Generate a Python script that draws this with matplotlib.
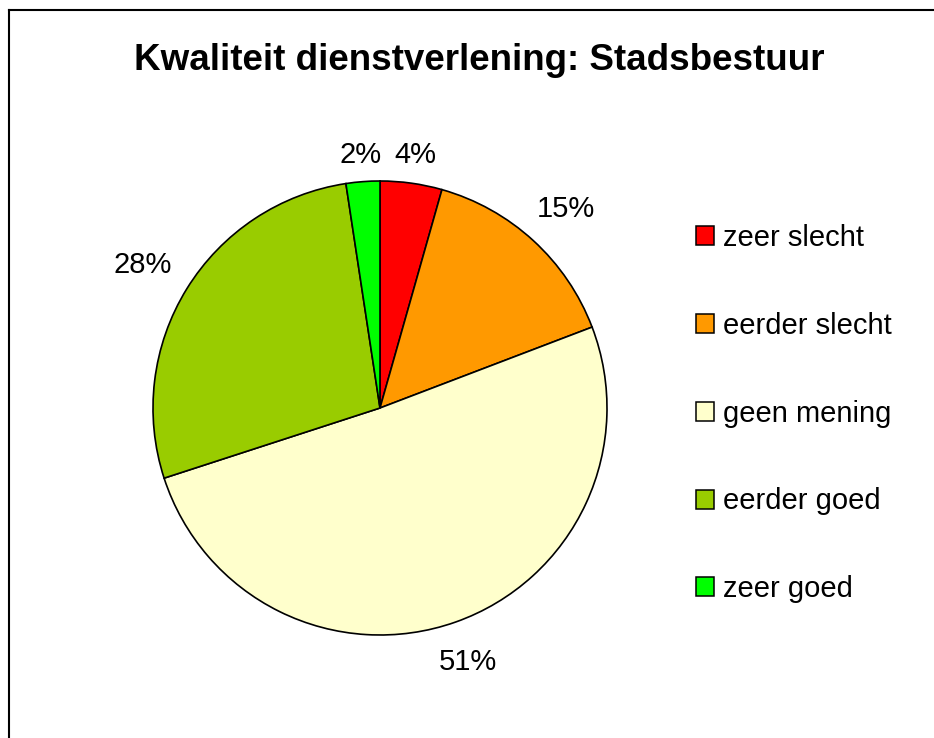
import matplotlib
matplotlib.use("Agg")
import matplotlib.pyplot as plt
import numpy as np
from matplotlib.lines import Line2D

plt.rcParams['font.family'] = ['Liberation Sans', 'DejaVu Sans']

title = "Kwaliteit dienstverlening: Stadsbestuur"
categories = ["zeer slecht", "eerder slecht", "geen mening", "eerder goed", "zeer goed"]
values = [4.4, 14.8, 50.8, 27.6, 2.4]
pct_labels = ["4%", "15%", "51%", "28%", "2%"]
colors = ["#FF0000", "#FF9900", "#FFFFCC", "#99CC00", "#00FF00"]

W, H = 934, 738
fig = plt.figure(figsize=(W / 100, H / 100), dpi=100)

# frame (top and left edges visible)
fig.add_artist(Line2D([9 / W, 9 / W], [0, 1 - 10 / H], color="black", lw=1.5, transform=fig.transFigure))
fig.add_artist(Line2D([9 / W, 1], [1 - 10 / H, 1 - 10 / H], color="black", lw=1.5, transform=fig.transFigure))

cx, cy, R = 380, 408, 227
ax = fig.add_axes([(cx - R) / W, (H - cy - R) / H, 2 * R / W, 2 * R / H])
wedges, _ = ax.pie(values, colors=colors, startangle=90, counterclock=False,
                   wedgeprops=dict(edgecolor="black", linewidth=1.2))
ax.set_xlim(-1, 1)
ax.set_ylim(-1, 1)
ax.set_aspect("equal")
ax.axis("off")

fs = 21
em = fs * 100 / 72  # pixels
cw = {"%": 0.889}
for w, lab in zip(wedges, pct_labels):
    ang = np.deg2rad((w.theta1 + w.theta2) / 2)
    c, s = np.cos(ang), np.sin(ang)
    width = sum(cw.get(ch, 0.556) for ch in lab) * em
    hw = width / 2 / R
    hh = 0.013
    d = 1.114 + abs(c) * hw + abs(s) * hh
    ax.annotate(lab, xy=(d * c, d * s), xytext=(0, -2.5), textcoords="offset points",
                ha="center", va="center", fontsize=fs, annotation_clip=False)

fig.text(479 / W, 1 - 61 / H, title, ha="center", va="center", fontsize=26.5, fontweight="bold")

leg = fig.legend(wedges, categories, loc="upper left", bbox_to_anchor=(696 / W, 1 - 224 / H),
                 frameon=False, fontsize=fs, handlelength=0.62, handleheight=0.62,
                 handletextpad=0.3, labelspacing=2.05, borderpad=0, borderaxespad=0)
for p in leg.get_patches():
    p.set_linewidth(1.1)

fig.savefig("out.png", dpi=100)
